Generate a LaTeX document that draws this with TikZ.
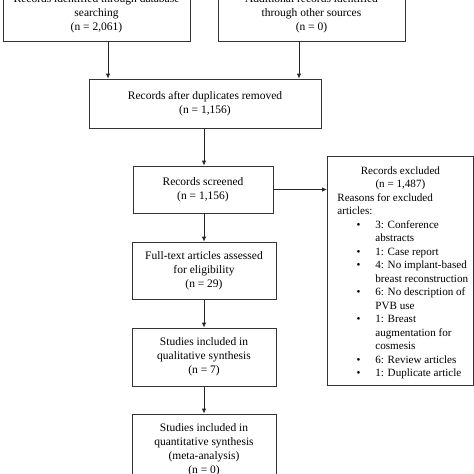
\documentclass[tikz,border=0pt]{standalone}
\usepackage{fontspec}
\setmainfont{Liberation Serif}
\usetikzlibrary{arrows.meta}
\tikzset{
  box/.style={draw=black!80, line width=0.8pt, align=center, inner sep=0pt, font=\fontsize{11.5}{14}\selectfont},
  arr/.style={draw=black!85, line width=0.8pt, -{Latex[length=5pt,width=4.5pt]}}
}
\begin{document}
\begin{tikzpicture}[x=1pt,y=-1pt]
\useasboundingbox (0,0) rectangle (474,474);
\node[box, minimum width=187pt, minimum height=55pt] (b1) at (96.5,13.5) {Records identified through database\\searching\\(n = 2,061)};
\node[box, minimum width=187pt, minimum height=55pt] (b2) at (311.5,13.5) {Additional records identified\\through other sources\\(n = 0)};
\node[box, minimum width=232pt, minimum height=49pt] (b3) at (205,103.5) {Records after duplicates removed\\(n = 1,156)};
\node[box, minimum width=140pt, minimum height=47pt] (b4) at (203,189.5) {Records screened\\(n = 1,156)};
\node[box, minimum width=144pt, minimum height=57pt] (b5) at (204,270.5) {Full-text articles assessed\\for eligibility\\(n = 29)};
\node[box, minimum width=144pt, minimum height=58pt] (b6) at (204,357) {Studies included in\\qualitative synthesis\\(n = 7)};
\node[box, minimum width=144pt, minimum height=71pt] (b7) at (204,449.5) {Studies included in\\quantitative synthesis\\(meta-analysis)\\(n = 0)};
\node[box, anchor=north west, align=left] (b8) at (327,156) {%
\begin{minipage}[c][229pt][t]{146pt}
\fontsize{11.1}{13.5}\selectfont
\vspace*{10pt}
{\centering Records excluded\\(n = 1,487)\par}
\hspace*{10pt}Reasons for excluded\\
\hspace*{10pt}articles:
\begin{list}{\textbullet}{\setlength\leftmargin{48pt}\setlength\labelsep{15pt}\setlength\labelwidth{33pt}\setlength\itemsep{0pt}\setlength\parsep{0pt}\setlength\topsep{0pt}\setlength\partopsep{0pt}\setlength\rightmargin{0pt}}
\item 3: Conference\\abstracts
\item 1: Case report
\item 4: No implant-based\\breast reconstruction
\item 6: No description of\\PVB use
\item 1: Breast\\augmentation for\\cosmesis
\item 6: Review articles
\item 1: Duplicate article
\end{list}
\end{minipage}};
\coordinate (c1) at (108,0);
\coordinate (c2) at (299,0);
\coordinate (c3) at (204,0);
\draw[arr] (b1.south -| c1) -- (b3.north -| c1);
\draw[arr] (b2.south -| c2) -- (b3.north -| c2);
\draw[arr] (b3.south -| c3) -- (b4.north -| c3);
\draw[arr] (b4.south -| c3) -- (b5.north -| c3);
\draw[arr] (b5.south -| c3) -- (b6.north -| c3);
\draw[arr] (b6.south -| c3) -- (b7.north -| c3);
\draw[arr] (b4.east) -- (b4.east -| b8.west);
\end{tikzpicture}
\end{document}
